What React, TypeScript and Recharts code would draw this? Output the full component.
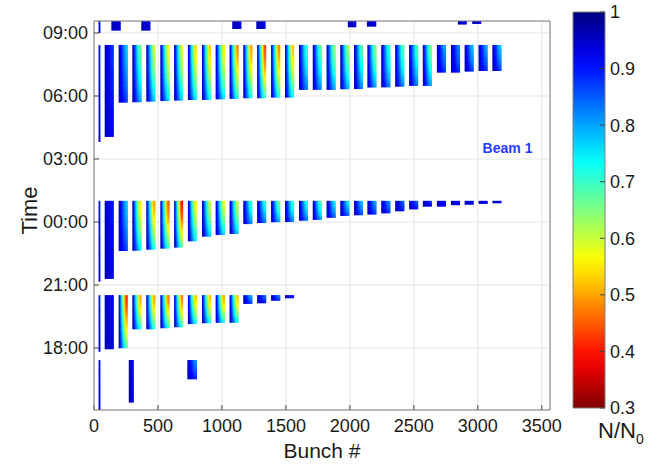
import {
  ComposedChart,
  XAxis,
  YAxis,
  CartesianGrid,
  ReferenceArea,
  ReferenceDot,
  Scatter,
} from 'recharts'

// time is in hours after 15:00 of the first day
const X_TICKS = [0, 500, 1000, 1500, 2000, 2500, 3000, 3500]
const TIME_TICKS = [3, 6, 9, 12, 15, 18]
const TIME_LABELS = ['18:00', '21:00', '00:00', '03:00', '06:00', '09:00']
const CB_TICKS = [0.3, 0.4, 0.5, 0.6, 0.7, 0.8, 0.9, 1]

// 72-bunch trains, same slots in every fill
const TRAIN_FIRST = [84, 193, 300, 409, 519, 626, 734, 844, 951, 1060, 1167, 1275, 1384, 1493, 1602, 1710, 1818, 1925, 2032, 2137, 2245, 2354, 2463, 2570, 2680, 2790, 2897, 3006, 3114]
const TRAIN_LAST = [155, 264, 372, 480, 591, 697, 806, 916, 1024, 1131, 1238, 1346, 1456, 1564, 1673, 1781, 1889, 1996, 2103, 2208, 2317, 2426, 2534, 2641, 2751, 2861, 2968, 3077, 3185]

// pilot bunch of each fill (A..E)
const PILOT_FIRST = 36
const PILOT_LAST = 50
const PILOT_START = [0.05, 2.82, 6.16, 12.81, 18.0]
const PILOT_END = [2.43, 5.52, 10.01, 17.43, 18.57]
const PILOT_MIN = [0.88, 0.86, 0.86, 0.86, 0.88]

// fill A (~15:00)
const FILL_A_FIRST = [272, 730]
const FILL_A_LAST = [311, 805]
const FILL_A_START = [0.4, 1.51]
const FILL_A_END = 2.43
const FILL_A_MIN = [0.92, 0.82]

// fill B (~18:00)
const FILL_B_START = [2.94, 2.99, 3.89, 3.89, 3.94, 3.99, 4.14, 4.18, 4.2, 4.2, 5.1, 5.13, 5.25, 5.37]
const FILL_B_END = 5.52
const FILL_B_MIN = [0.92, 0.42, 0.5, 0.5, 0.47, 0.47, 0.52, 0.52, 0.5, 0.52, 0.8, 0.85, 0.83, 0.9]

// fill C (~21:00)
const FILL_C_START = [6.29, 7.62, 7.63, 7.68, 7.73, 7.78, 8.08, 8.3, 8.38, 8.43, 8.9, 8.95, 8.99, 9.0, 9.06, 9.1, 9.2, 9.29, 9.32, 9.35, 9.41, 9.51, 9.6, 9.73, 9.73, 9.8, 9.82, 9.86, 9.89]
const FILL_C_END = 10.01
const FILL_C_MIN = [0.9, 0.78, 0.55, 0.5, 0.45, 0.4, 0.55, 0.6, 0.58, 0.6, 0.7, 0.72, 0.66, 0.7, 0.72, 0.68, 0.75, 0.75, 0.78, 0.8, 0.82, 0.85, 0.86, 0.88, 0.9, 0.9, 0.92, 0.92, 0.92]

// fill D (~03:00)
const FILL_D_START = [13.05, 14.68, 14.7, 14.73, 14.76, 14.78, 14.81, 14.81, 14.84, 14.86, 14.89, 14.89, 14.92, 14.92, 15.29, 15.29, 15.29, 15.32, 15.33, 15.4, 15.41, 15.44, 15.48, 15.48, 16.11, 16.11, 16.16, 16.19, 16.19]
const FILL_D_END = 17.43
const FILL_D_MIN = [0.88, 0.78, 0.66, 0.6, 0.56, 0.58, 0.54, 0.53, 0.56, 0.48, 0.5, 0.44, 0.48, 0.52, 0.7, 0.67, 0.64, 0.63, 0.68, 0.65, 0.7, 0.68, 0.7, 0.65, 0.8, 0.82, 0.78, 0.8, 0.78]

// fill E (~09:00), still running at the end of the plot
const FILL_E_FIRST = [136, 370, 1081, 1269, 1984, 2133, 2844, 2956]
const FILL_E_LAST = [209, 441, 1152, 1341, 2050, 2206, 2914, 3027]
const FILL_E_START = [18.11, 18.11, 18.19, 18.19, 18.27, 18.3, 18.4, 18.43]
const FILL_E_END = 18.57
const FILL_E_MIN = [0.93, 0.93, 0.93, 0.93, 0.92, 0.92, 0.92, 0.92]

const X_DOMAIN = [0, 3564]
const Y_DOMAIN = [0.05, 18.57]

const FONT = '"Liberation Sans", Arial, Helvetica, sans-serif'
const FRAME = '#808080'
const TEXT = '#1a1a1a'
const BASE = 0.965

type Train = { x1: number; x2: number; y1: number; y2: number; min: number }

// jet colormap, 1 -> dark blue, 0.3 -> dark red
function valueColor(v: number) {
  const p = Math.min(1, Math.max(0, (1 - v) / 0.7))
  const c = (t: number) => Math.round(255 * Math.min(1, Math.max(0, 1.5 - Math.abs(4 * p - t))))
  return `rgb(${c(3)},${c(2)},${c(1)})`
}

// horizontal profile across a train: first bunches keep their intensity, the tail loses most
const PROFILE_LEVELS = Array.from({ length: 71 }, (_, k) => 30 + k)
const PROFILE_X = [0, 0.1, 0.2, 0.3, 0.4, 0.5, 0.6, 0.7, 0.8, 0.9, 1]

function profileColor(level: number, s: number) {
  const m = Math.min(BASE, level / 100)
  const f = Math.min(1, s / 0.78)
  return valueColor(BASE - (BASE - m) * f)
}

const trains: Train[] = []
PILOT_START.forEach((s, i) =>
  trains.push({ x1: PILOT_FIRST, x2: PILOT_LAST, y1: s, y2: PILOT_END[i], min: PILOT_MIN[i] })
)
FILL_A_START.forEach((s, i) =>
  trains.push({ x1: FILL_A_FIRST[i], x2: FILL_A_LAST[i], y1: s, y2: FILL_A_END, min: FILL_A_MIN[i] })
)
FILL_B_START.forEach((s, i) =>
  trains.push({ x1: TRAIN_FIRST[i], x2: TRAIN_LAST[i], y1: s, y2: FILL_B_END, min: FILL_B_MIN[i] })
)
FILL_C_START.forEach((s, i) =>
  trains.push({ x1: TRAIN_FIRST[i], x2: TRAIN_LAST[i], y1: s, y2: FILL_C_END, min: FILL_C_MIN[i] })
)
FILL_D_START.forEach((s, i) =>
  trains.push({ x1: TRAIN_FIRST[i], x2: TRAIN_LAST[i], y1: s, y2: FILL_D_END, min: FILL_D_MIN[i] })
)
FILL_E_START.forEach((s, i) =>
  trains.push({ x1: FILL_E_FIRST[i], x2: FILL_E_LAST[i], y1: s, y2: FILL_E_END, min: FILL_E_MIN[i] })
)

// corner points of every train, only to give the axes something to hold
const corners = trains.flatMap((t) => [
  { x: t.x1, y: t.y1 },
  { x: t.x2, y: t.y2 },
])
const cbPoints = [
  { x: 0, v: 0.3 },
  { x: 1, v: 1 },
]

const noShape = () => <g />

// a train drawn in thin horizontal slices, losses grow with time (towards the top)
function TrainShape(props: any) {
  const { x, y, width, height, min } = props
  if (!(width > 0) || !(height > 0)) return null
  const n = Math.max(1, Math.round(height / 2))
  const dh = height / n
  return (
    <g>
      {Array.from({ length: n }, (_, k) => {
        const yn = (k + 0.5) / n
        const h = 1 - 0.5 * Math.pow(yn, 1.5)
        const m = Math.min(BASE, BASE - (BASE - min) * h)
        const level = Math.max(30, Math.min(100, Math.round(m * 100)))
        return (
          <rect
            key={k}
            x={x}
            y={y + k * dh}
            width={width}
            height={k === n - 1 ? dh : dh + 0.6}
            fill={`url(#hp-${level})`}
          />
        )
      })}
    </g>
  )
}

const bunchLabel = ({ viewBox }: any) => (
  <text x={viewBox.x + viewBox.width / 2} y={viewBox.y + 48} textAnchor="middle" fontSize={21} fontFamily={FONT} fill={TEXT}>
    Bunch #
  </text>
)

const timeLabel = ({ viewBox }: any) => {
  const x = viewBox.x + 37
  const y = viewBox.y + viewBox.height / 2 - 5
  return (
    <text x={x} y={y} transform={`rotate(-90, ${x}, ${y})`} textAnchor="middle" fontSize={22} fontFamily={FONT} fill={TEXT}>
      Time
    </text>
  )
}

const beamLabel = ({ viewBox }: any) => (
  <text x={viewBox.x} y={viewBox.y + 5} textAnchor="middle" fontSize={14} fontWeight="bold" fontFamily={FONT} fill="#1f3cff">
    Beam 1
  </text>
)

const ratioLabel = ({ viewBox }: any) => (
  <text x={viewBox.x - 7} y={viewBox.y + viewBox.height + 30} fontSize={22} fontFamily={FONT} fill={TEXT}>
    <tspan>N/N</tspan>
    <tspan fontSize={14} dy={6}>0</tspan>
  </text>
)

function ColorBar() {
  const steps = Array.from({ length: 22 }, (_, k) => k / 21)
  return (
    <ComposedChart width={91} height={468} margin={{ top: 12, right: 0, bottom: 60, left: 13 }}>
      <defs>
        <linearGradient id="jetbar" x1="0" y1="0" x2="0" y2="1">
          {steps.map((o) => (
            <stop key={o} offset={o} stopColor={valueColor(1 - 0.7 * o)} />
          ))}
        </linearGradient>
      </defs>
      <XAxis type="number" dataKey="x" domain={[0, 1]} allowDataOverflow hide />
      <YAxis
        orientation="right"
        type="number"
        dataKey="v"
        domain={[0.3, 1]}
        allowDataOverflow
        ticks={CB_TICKS}
        width={46}
        axisLine={false}
        tickSize={-5}
        tickMargin={10}
        tickLine={{ stroke: '#444' }}
        tick={{ fill: TEXT, fontSize: 18, fontFamily: FONT }}
        tickFormatter={(v: number) => String(Math.round(v * 10) / 10)}
        label={ratioLabel}
      />
      <YAxis
        yAxisId="l"
        orientation="left"
        mirror
        type="number"
        dataKey="v"
        domain={[0.3, 1]}
        allowDataOverflow
        ticks={CB_TICKS}
        axisLine={false}
        tick={false}
        tickSize={5}
        tickLine={{ stroke: '#444' }}
      />
      <Scatter data={cbPoints} dataKey="v" shape={noShape} isAnimationActive={false} />
      <ReferenceArea y1={0.3} y2={1} fill="url(#jetbar)" fillOpacity={1} stroke={FRAME} strokeWidth={1} />
    </ComposedChart>
  )
}

export default function App() {
  return (
    <div style={{ position: 'fixed', left: 0, top: 0, width: 651, height: 468, background: '#fff' }}>
      <div style={{ position: 'absolute', left: 0, top: 0 }}>
        <ComposedChart width={651} height={468} margin={{ top: 21, right: 101, bottom: 0, left: 0 }}>
          <defs>
            {PROFILE_LEVELS.map((lv) => (
              <linearGradient key={lv} id={`hp-${lv}`} x1="0" y1="0" x2="1" y2="0">
                {PROFILE_X.map((s) => (
                  <stop key={s} offset={s} stopColor={profileColor(lv, s)} />
                ))}
              </linearGradient>
            ))}
          </defs>
          <CartesianGrid stroke="#e3e3e3" />
          <XAxis
            type="number"
            dataKey="x"
            domain={X_DOMAIN}
            ticks={X_TICKS}
            allowDataOverflow
            height={58}
            stroke={FRAME}
            tickSize={-5}
            tickMargin={14}
            tickLine={{ stroke: '#444' }}
            tick={{ fill: TEXT, fontSize: 18, fontFamily: FONT }}
            label={bunchLabel}
          />
          <XAxis
            xAxisId="top"
            orientation="top"
            mirror
            type="number"
            dataKey="x"
            domain={X_DOMAIN}
            ticks={X_TICKS}
            allowDataOverflow
            stroke={FRAME}
            tick={false}
            tickSize={5}
            tickLine={{ stroke: '#444' }}
          />
          <YAxis
            type="number"
            dataKey="y"
            domain={Y_DOMAIN}
            ticks={TIME_TICKS}
            allowDataOverflow
            width={94}
            stroke={FRAME}
            tickSize={-5}
            tickMargin={11}
            tickLine={{ stroke: '#444' }}
            tick={{ fill: TEXT, fontSize: 18, fontFamily: FONT }}
            tickFormatter={(v: number) => TIME_LABELS[TIME_TICKS.indexOf(v)]}
            label={timeLabel}
          />
          <YAxis
            yAxisId="right"
            orientation="right"
            mirror
            type="number"
            dataKey="y"
            domain={Y_DOMAIN}
            ticks={TIME_TICKS}
            allowDataOverflow
            stroke={FRAME}
            tick={false}
            tickSize={5}
            tickLine={{ stroke: '#444' }}
          />
          <Scatter data={corners} dataKey="y" shape={noShape} isAnimationActive={false} />
          {trains.map((t, i) => (
            <ReferenceArea
              key={i}
              x1={t.x1}
              x2={t.x2}
              y1={t.y1}
              y2={t.y2}
              fillOpacity={1}
              ifOverflow="hidden"
              shape={(p: any) => <TrainShape {...p} min={t.min} />}
            />
          ))}
          <ReferenceDot x={3232} y={12.52} r={0} fill="none" stroke="none" label={beamLabel} />
        </ComposedChart>
      </div>
      <div style={{ position: 'absolute', left: 560, top: 0 }}>
        <ColorBar />
      </div>
    </div>
  )
}
